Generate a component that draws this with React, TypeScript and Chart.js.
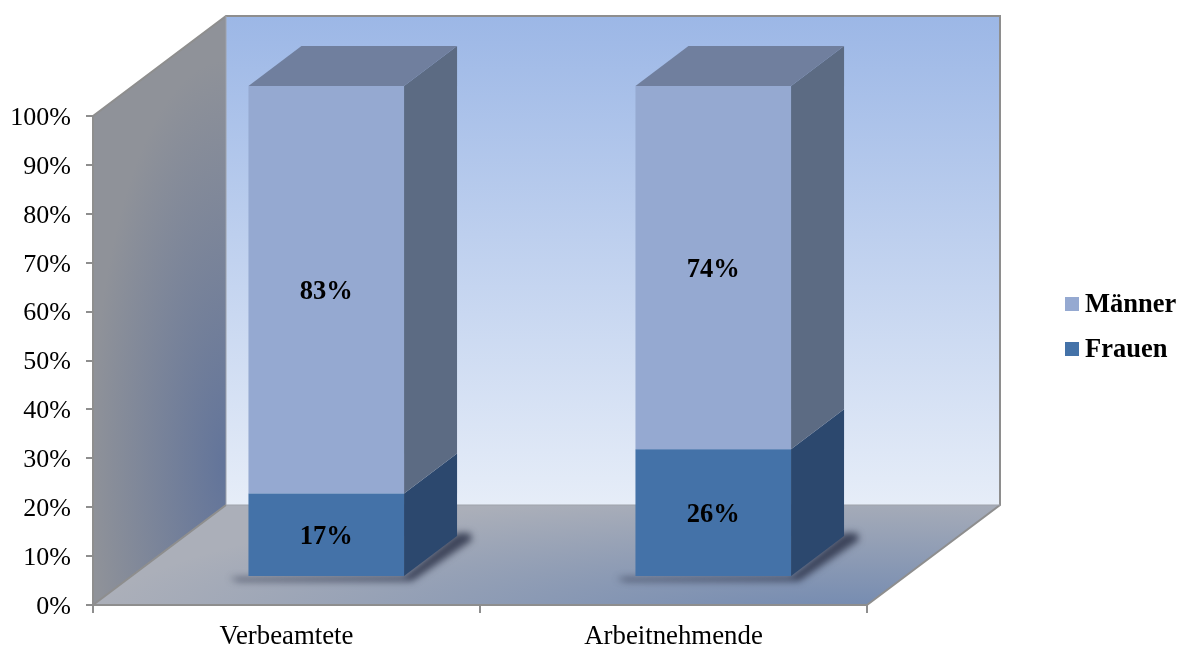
import React, { useEffect, useRef } from "react";
import { Chart, registerables } from "chart.js";

Chart.register(...registerables);

const categories = ["Verbeamtete", "Arbeitnehmende"];
const frauen = [17, 26];
const maenner = [83, 74];
const FONT = '"Liberation Serif", "Times New Roman", serif';

// Oblique projection of the box: how far the back wall sits from the front plane.
const WALL_DEPTH = { x: 133, y: -100 };
// Bars stand part-way back on the floor, and have their own depth.
const BAR_SHIFT = { x: 39.75, y: -28, k: 491 / 489 };
const BAR_DEPTH = { x: 53, y: -40 };

const colours = {
  Frauen: { front: "#4472a8", side: "#2c486e" },
  "Männer": { front: "#95a9d1", side: "#5c6b83", top: "#707f9e" },
};

function poly(ctx: CanvasRenderingContext2D, pts: number[][]) {
  ctx.beginPath();
  pts.forEach(([x, y], i) => (i ? ctx.lineTo(x, y) : ctx.moveTo(x, y)));
  ctx.closePath();
}

const wallsPlugin = {
  id: "walls",
  beforeDraw(chart: any) {
    const { ctx, chartArea: a } = chart;
    const { left: l, right: r, top: t, bottom: b } = a;
    const dx = WALL_DEPTH.x;
    const dy = WALL_DEPTH.y;

    ctx.save();
    // back wall
    const back = ctx.createLinearGradient(0, t + dy, 0, b + dy);
    back.addColorStop(0, "#9cb7e6");
    back.addColorStop(1, "#e6edf8");
    ctx.fillStyle = back;
    ctx.fillRect(l + dx, t + dy, r - l, b - t);

    // side wall: neutral grey shading into blue towards the lower back corner
    poly(ctx, [[l, t], [l + dx, t + dy], [l + dx, b + dy], [l, b]]);
    ctx.fillStyle = "#8f9299";
    ctx.fill();
    ctx.save();
    ctx.clip();
    ctx.translate(l + dx, b + dy - 40);
    ctx.scale(1, 3);
    const wallGlow = ctx.createRadialGradient(0, 0, 0, 0, 0, 135);
    wallGlow.addColorStop(0, "rgba(98,116,154,1)");
    wallGlow.addColorStop(1, "rgba(98,116,154,0)");
    ctx.fillStyle = wallGlow;
    ctx.fillRect(-200, -200, 400, 400);
    ctx.restore();

    // floor: grey with a blue pool near the front right corner
    poly(ctx, [[l, b], [l + dx, b + dy], [r + dx, b + dy], [r, b]]);
    ctx.fillStyle = "#abafb9";
    ctx.fill();
    ctx.save();
    ctx.clip();
    ctx.translate(r - 10, b + 15);
    ctx.scale(1, 0.17);
    const floorGlow = ctx.createRadialGradient(0, 0, 0, 0, 0, 760);
    floorGlow.addColorStop(0, "rgba(112,136,176,1)");
    floorGlow.addColorStop(1, "rgba(112,136,176,0)");
    ctx.fillStyle = floorGlow;
    ctx.fillRect(-1000, -1000, 2000, 2000);
    ctx.restore();

    // edges
    ctx.strokeStyle = "#8e8e8e";
    ctx.lineWidth = 2;
    ctx.beginPath();
    ctx.moveTo(l, t);
    ctx.lineTo(l + dx, t + dy);
    ctx.lineTo(r + dx, t + dy);
    ctx.lineTo(r + dx, b + dy);
    ctx.lineTo(r, b);
    ctx.moveTo(l, b);
    ctx.lineTo(l + dx, b + dy);
    ctx.stroke();
    ctx.strokeStyle = "#9fa3ab";
    ctx.lineWidth = 1;
    ctx.beginPath();
    ctx.moveTo(l + dx, t + dy);
    ctx.lineTo(l + dx, b + dy);
    ctx.lineTo(r + dx, b + dy);
    ctx.stroke();
    ctx.restore();
  },
  beforeDatasetsDraw(chart: any) {
    const { ctx, chartArea: a } = chart;
    const b = a.bottom;
    const mapY = (y: number) => b + BAR_SHIFT.y + (y - b) * BAR_SHIFT.k;
    const ex = BAR_DEPTH.x;
    const ey = BAR_DEPTH.y;

    // contact shadows on the floor
    ctx.save();
    ctx.filter = "blur(3.5px)";
    ctx.fillStyle = "rgba(38,44,66,0.8)";
    chart.getDatasetMeta(0).data.forEach((bar: any) => {
      const x0 = bar.x + BAR_SHIFT.x - bar.width / 2;
      const x1 = x0 + bar.width;
      const y = mapY(bar.base);
      poly(ctx, [
        [x0 - 19, y + 2],
        [x0 - 10, y + 5],
        [x1 + 8, y + 5],
        [x1 + ex + 15, y + ey + 4],
        [x1 + ex + 13, y + ey - 3],
        [x1 + ex, y + ey - 3],
        [x1, y],
      ]);
      ctx.fill();
    });
    ctx.restore();

    // side and top faces, bottom segment first
    chart.data.datasets.forEach((ds: any, i: number) => {
      const c = (colours as any)[ds.label];
      chart.getDatasetMeta(i).data.forEach((bar: any) => {
        const x1 = bar.x + BAR_SHIFT.x + bar.width / 2;
        const x0 = x1 - bar.width;
        const yt = mapY(bar.y);
        const yb = mapY(bar.base);
        poly(ctx, [[x1, yt], [x1 + ex, yt + ey], [x1 + ex, yb + ey], [x1, yb]]);
        ctx.fillStyle = c.side;
        ctx.fill();
        if (c.top) {
          poly(ctx, [[x0, yt], [x0 + ex, yt + ey], [x1 + ex, yt + ey], [x1, yt]]);
          ctx.fillStyle = c.top;
          ctx.fill();
        }
      });
    });

    // front faces are drawn by the bar elements inside this transform
    ctx.save();
    ctx.transform(1, 0, 0, BAR_SHIFT.k, BAR_SHIFT.x, b + BAR_SHIFT.y - b * BAR_SHIFT.k);
  },
  afterDatasetsDraw(chart: any) {
    const { ctx, chartArea: a } = chart;
    ctx.restore();
    const b = a.bottom;
    const mapY = (y: number) => b + BAR_SHIFT.y + (y - b) * BAR_SHIFT.k;

    // value labels
    ctx.save();
    ctx.font = `bold 26.5px ${FONT}`;
    ctx.fillStyle = "#000";
    ctx.textAlign = "center";
    ctx.textBaseline = "middle";
    chart.data.datasets.forEach((ds: any, i: number) => {
      chart.getDatasetMeta(i).data.forEach((bar: any, j: number) => {
        const y = (mapY(bar.y) + mapY(bar.base)) / 2;
        ctx.fillText(`${ds.data[j]}%`, bar.x + BAR_SHIFT.x, y + 2);
      });
    });

    // legend, upper series first
    ctx.textAlign = "left";
    const items = [...chart.data.datasets].reverse();
    items.forEach((ds: any, i: number) => {
      const y = 304 + i * 45;
      ctx.fillStyle = ds.backgroundColor;
      ctx.fillRect(1065, y - 7, 14, 14);
      ctx.fillStyle = "#000";
      ctx.fillText(ds.label, 1085, y + 1);
    });
    ctx.restore();
  },
};

export default function App() {
  const ref = useRef<HTMLCanvasElement>(null);

  useEffect(() => {
    const chart = new Chart(ref.current!, {
      type: "bar",
      data: {
        labels: categories,
        datasets: [
          { label: "Frauen", data: frauen, backgroundColor: colours.Frauen.front, clip: false as any },
          { label: "Männer", data: maenner, backgroundColor: colours["Männer"].front, clip: false as any },
        ],
      },
      options: {
        responsive: false,
        animation: false,
        layout: { padding: { top: 116, right: 317, left: 0, bottom: 0 } },
        datasets: { bar: { categoryPercentage: 1, barPercentage: 0.402, borderWidth: 0 } },
        plugins: { legend: { display: false }, tooltip: { enabled: false }, title: { display: false } },
        scales: {
          x: {
            stacked: true,
            grid: { drawOnChartArea: false, color: "#8e8e8e", lineWidth: 2, tickLength: 8 },
            border: { color: "#8e8e8e", width: 2 },
            ticks: { color: "#000", font: { family: FONT, size: 26.8 }, padding: 8, maxRotation: 0 },
            afterFit(s: any) {
              s.height = 41;
            },
          },
          y: {
            stacked: true,
            min: 0,
            max: 100,
            grid: { drawOnChartArea: false, color: "#8e8e8e", lineWidth: 2, tickLength: 7 },
            border: { color: "#8e8e8e", width: 2 },
            ticks: {
              stepSize: 10,
              color: "#000",
              font: { family: FONT, size: 26 },
              padding: 15,
              labelOffset: 2,
              callback: (v: any) => `${v}%`,
            },
            afterFit(s: any) {
              s.width = 93;
            },
          },
        },
      },
      plugins: [wallsPlugin],
    });
    return () => chart.destroy();
  }, []);

  return (
    <canvas
      ref={ref}
      width={1184}
      height={646}
      style={{ position: "absolute", left: 0, top: 0, display: "block" }}
    />
  );
}
